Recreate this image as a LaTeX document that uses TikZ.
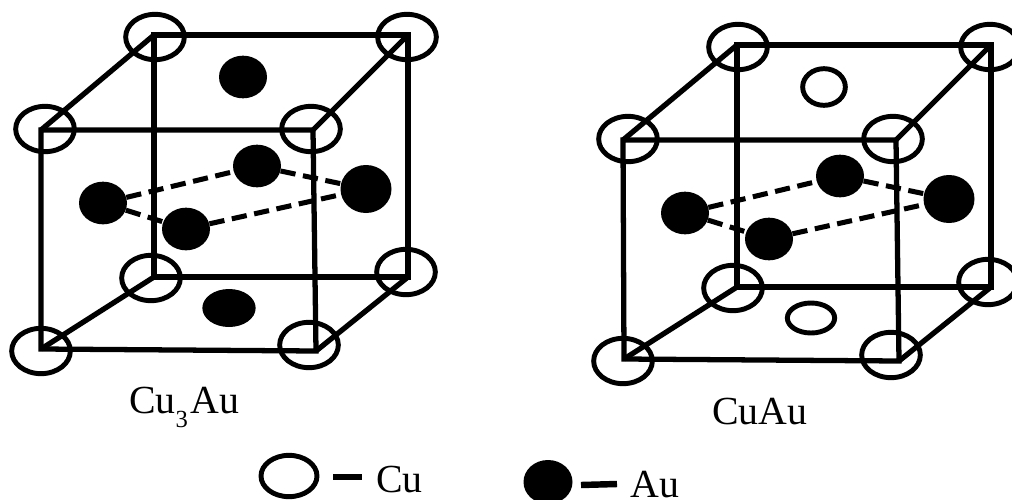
\documentclass[tikz,border=0pt]{standalone}
\usepackage{fontspec}
\setmainfont{Liberation Serif}
\usepackage{xcolor}
\usetikzlibrary{
    shapes.geometric
}

\begin{document}
\begin{tikzpicture}[
        x=0.03cm,
        y=-0.03cm,
        cuatom/.style={
            ellipse,
            draw,
            line width=4.2pt,
            inner sep=0pt,
            minimum width=1.76cm,
            minimum height=1.36cm
        },
        auatom/.style={
            ellipse,
            fill=black,
            inner sep=0pt,
            minimum width=1.44cm,
            minimum height=1.28cm
        },
        edge/.style={
            line width=4.5pt,
            line join=miter
        },
        plane/.style={
            line width=4.3pt,
            dash pattern=on 13pt off 6.5pt
        },
        keydash/.style={
            line width=5.5pt
        },
        label/.style={
            font=\fontsize{34}{34}\selectfont,
            anchor=base west,
            inner sep=0pt
        }
    ]

    \useasboundingbox (0,0) rectangle (1012,499);

    % Cu3Au cell
    \coordinate (aftl) at (41,130);
    \coordinate (aftr) at (313,130);
    \coordinate (afbl) at (41,349);
    \coordinate (afbr) at (316,351);
    \coordinate (abtl) at (154,35);
    \coordinate (abtr) at (408,35);
    \coordinate (abbl) at (154,277);
    \coordinate (abbr) at (408,277);

    \draw[edge] (aftl) -- (aftr) -- (afbr) -- (afbl) -- cycle;
    \draw[edge] (abtl) -- (abtr) -- (abbr) -- (abbl) -- cycle;
    \draw[edge] (aftl) -- (abtl);
    \draw[edge] (aftr) -- (abtr);
    \draw[edge] (afbl) -- (abbl);
    \draw[edge] (afbr) -- (abbr);

    \node[cuatom] (acu1) at (45,129) {};
    \node[cuatom] (acu2) at (155,37) {};
    \node[cuatom] (acu3) at (407,37) {};
    \node[cuatom] (acu4) at (311,129) {};
    \node[cuatom] (acu5) at (151,278) {};
    \node[cuatom] (acu6) at (406,272) {};
    \node[cuatom] (acu7) at (41,351) {};
    \node[cuatom] (acu8) at (309,345) {};

    \node[auatom] (atop) at (243,77) {};
    \node[auatom, minimum width=1.6cm, minimum height=1.14cm] (abot) at (229,308) {};
    \node[auatom] (aleft) at (103,203) {};
    \node[auatom] (aback) at (257,166) {};
    \node[auatom] (afront) at (186,229) {};
    \node[auatom, minimum width=1.53cm, minimum height=1.44cm] (aright) at (366,189) {};

    \draw[plane] (aleft) -- (aback);
    \draw[plane] (aback) -- (aright);
    \draw[plane] (aleft) -- (afront);
    \draw[plane] (afront) -- (aright);

    \node[label] (alabel) at (129,413) {Cu\raisebox{-12pt}{\fontsize{21}{21}\selectfont 3}\kern2pt Au};

    % CuAu cell
    \coordinate (bftl) at (623,140);
    \coordinate (bftr) at (896,140);
    \coordinate (bfbl) at (624,359);
    \coordinate (bfbr) at (899,361);
    \coordinate (bbtl) at (737,45);
    \coordinate (bbtr) at (991,45);
    \coordinate (bbbl) at (737,287);
    \coordinate (bbbr) at (991,287);

    \draw[edge] (bftl) -- (bftr) -- (bfbr) -- (bfbl) -- cycle;
    \draw[edge] (bbtl) -- (bbtr) -- (bbbr) -- (bbbl) -- cycle;
    \draw[edge] (bftl) -- (bbtl);
    \draw[edge] (bftr) -- (bbtr);
    \draw[edge] (bfbl) -- (bbbl);
    \draw[edge] (bfbr) -- (bbbr);

    \node[cuatom] (bcu1) at (628,139) {};
    \node[cuatom] (bcu2) at (738,47) {};
    \node[cuatom] (bcu3) at (990,47) {};
    \node[cuatom] (bcu4) at (893,139) {};
    \node[cuatom] (bcu5) at (733,288) {};
    \node[cuatom] (bcu6) at (988,282) {};
    \node[cuatom] (bcu7) at (623,361) {};
    \node[cuatom] (bcu8) at (891,355) {};

    \node[cuatom, minimum width=1.28cm, minimum height=1.1cm] (btop) at (824,87) {};
    \node[cuatom, minimum width=1.42cm, minimum height=0.9cm] (bbot) at (811,318) {};
    \node[auatom] (bleft) at (685,213) {};
    \node[auatom] (bback) at (840,176) {};
    \node[auatom] (bfront) at (769,239) {};
    \node[auatom, minimum width=1.53cm, minimum height=1.44cm] (bright) at (949,199) {};

    \draw[plane] (bleft) -- (bback);
    \draw[plane] (bback) -- (bright);
    \draw[plane] (bleft) -- (bfront);
    \draw[plane] (bfront) -- (bright);

    \node[label] (blabel) at (712,424) {CuAu};

    % key
    \node[cuatom, minimum width=1.68cm, minimum height=1.24cm] (keycu) at (289,476) {};
    \coordinate (keycua) at (333,477);
    \coordinate (keycub) at (362,477);
    \draw[keydash] (keycua) -- (keycub);
    \node[label] (keycutext) at (376,492) {Cu};

    \node[auatom, minimum width=1.47cm, minimum height=1.32cm] (keyau) at (548,482) {};
    \coordinate (keyaua) at (581,485);
    \coordinate (keyaub) at (617,484);
    \draw[keydash] (keyaua) -- (keyaub);
    \node[label] (keyautext) at (630,497) {Au};

\end{tikzpicture}
\end{document}
